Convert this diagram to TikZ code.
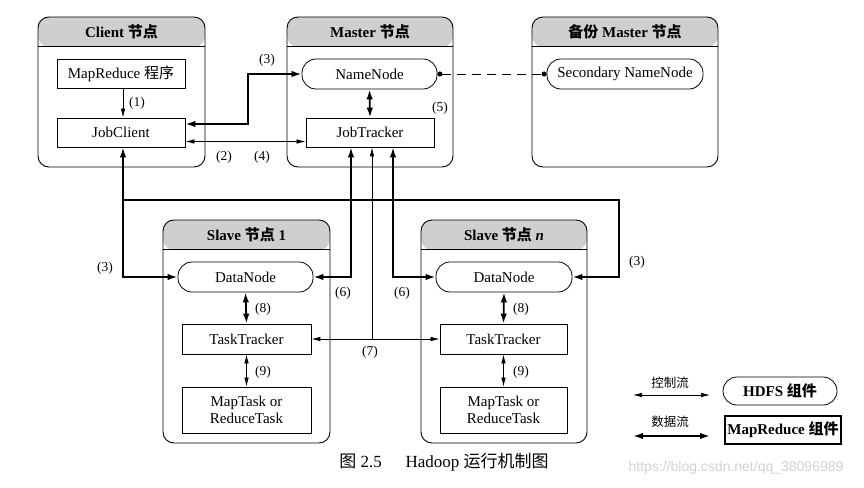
\documentclass[tikz,border=0pt]{standalone}
\usepackage{fontspec}
\setmainfont{Liberation Serif}
\setsansfont{Liberation Sans}
\newfontfamily\cjk{Noto Sans CJK SC}
\usetikzlibrary{arrows.meta}
\begin{document}
\begin{tikzpicture}[x=1pt,y=-1pt,
  every node/.style={font=\fontsize{15}{17}\selectfont, inner sep=0pt},
  outer/.style={draw, line width=0.9pt, rounded corners=11pt,
    path picture={\fill[gray!38] (path picture bounding box.north west) rectangle ([yshift=-30pt]path picture bounding box.north east);}},
  box/.style={draw, line width=0.8pt, fill=white},
  rbox/.style={draw, line width=0.8pt, rounded corners=14pt, fill=white},
  hdr/.style={font=\fontsize{15}{17}\selectfont\bfseries},
  lbl/.style={font=\fontsize{13.5}{15}\selectfont},
  ct/.tip={Latex[length=9pt,width=4.5pt]},
  dt/.tip={Latex[length=10pt,width=6.5pt]},
  ctrl/.style={line width=0.7pt},
  data/.style={line width=1.8pt},
  dotend/.tip={Circle[length=5pt]}
]
\useasboundingbox (0,0) rectangle (864,487);

% outer nodes
\node[outer, minimum width=167pt, minimum height=150pt] (client) at (121.5,92) {};
\node[outer, minimum width=166pt, minimum height=150pt] (master) at (370,92) {};
\node[outer, minimum width=186pt, minimum height=150pt] (backup) at (625,92) {};
\node[outer, minimum width=167pt, minimum height=223pt] (slave1) at (246.5,331.5) {};
\node[outer, minimum width=166pt, minimum height=223pt] (slaven) at (504,331.5) {};

\foreach \n in {client,master,backup,slave1,slaven}
  \draw[line width=0.8pt] ([yshift=-30pt]\n.north west) -- ([yshift=-30pt]\n.north east);

\node[hdr] (clienth) at ([yshift=-15pt]client.north) {Client {\cjk 节点}};
\node[hdr] (masterh) at ([yshift=-15pt]master.north) {Master {\cjk 节点}};
\node[hdr] (backuph) at ([yshift=-15pt]backup.north) {{\cjk 备份} Master {\cjk 节点}};
\node[hdr] (slave1h) at ([yshift=-15pt]slave1.north) {Slave {\cjk 节点} 1};
\node[hdr] (slavenh) at ([yshift=-15pt]slaven.north) {Slave {\cjk 节点} \textit{n}};

% inner nodes
\node[box, minimum width=128pt, minimum height=29pt] (mr) at (121,73.5) {MapReduce {\cjk 程序}};
\node[box, minimum width=128pt, minimum height=29pt] (jobclient) at (121,132.5) {JobClient};
\node[rbox, minimum width=135pt, minimum height=30pt] (namenode) at (369.5,74) {NameNode};
\node[box, minimum width=128pt, minimum height=29pt] (jobtracker) at (370,132.5) {JobTracker};
\node[rbox, minimum width=156pt, minimum height=30pt] (secnn) at (625,74) {Secondary NameNode};

\node[rbox, minimum width=135pt, minimum height=30pt] (dn1) at (245.5,277) {DataNode};
\node[box, minimum width=129pt, minimum height=30pt] (tt1) at (246.5,339) {TaskTracker};
\node[box, minimum width=129pt, minimum height=46pt, align=center] (mt1) at (246.5,410) {MapTask or\\ReduceTask};

\node[rbox, minimum width=136pt, minimum height=30pt] (dnn) at (504,277) {DataNode};
\node[box, minimum width=127pt, minimum height=30pt] (ttn) at (503.5,339) {TaskTracker};
\node[box, minimum width=127pt, minimum height=46pt, align=center] (mtn) at (503.5,410) {MapTask or\\ReduceTask};

% connectors
\draw[ctrl, -ct] ([xshift=2pt]mr.south) -- ([xshift=2pt]jobclient.north);
\draw[data, dt-dt] ([yshift=8.5pt]jobclient.east) -| ([xshift=-54pt]namenode.west) -- (namenode.west);
\draw[ctrl, ct-ct] ([yshift=-9pt]jobclient.east) -- ([yshift=-9pt]jobtracker.west);
\draw[data, dt-dt] (namenode.south) -- (jobtracker.north);
\draw[ctrl, dashed, dash pattern=on 9pt off 6pt, dotend-dotend] (namenode.east) -- (secnn.west);

\coordinate (lvl) at (0,200);
\coordinate (rgt) at (619,0);
\path ([xshift=2pt]jobclient.south) coordinate (jc3);
\coordinate (j3) at (jc3 |- lvl);
\coordinate (r3) at (rgt |- lvl);
\draw[data, dt-dt] (jc3) |- (dn1.west);
\draw[data, -dt] (j3) -- (r3) |- (dnn.east);

\draw[data, dt-dt] ([xshift=-19pt]jobtracker.south) |- (dn1.east);
\draw[data, dt-dt] ([xshift=23pt]jobtracker.south) |- (dnn.west);

\path ([xshift=2pt]jobtracker.south) coordinate (jt7);
\coordinate (j7) at (jt7 |- tt1.east);
\draw[ctrl, ct-ct] (tt1.east) -- (ttn.west);
\draw[ctrl, -ct] (j7) -- (jt7);

\draw[data, dt-dt] (dn1.south) -- (tt1.north);
\draw[ctrl, ct-ct] (tt1.south) -- (mt1.north);
\draw[data, dt-dt] (dnn.south) -- (ttn.north);
\draw[ctrl, ct-ct] (ttn.south) -- (mtn.north);

% labels
\node[lbl] (l1) at (137,103) {(1)};
\node[lbl] (l3a) at (267,60) {(3)};
\node[lbl] (l5) at (440,108) {(5)};
\node[lbl] (l2) at (224,157) {(2)};
\node[lbl] (l4) at (262,157) {(4)};
\node[lbl] (l3b) at (105,268) {(3)};
\node[lbl] (l3c) at (637,262) {(3)};
\node[lbl] (l6a) at (343,293) {(6)};
\node[lbl] (l6b) at (402,293) {(6)};
\node[lbl] (l7) at (370,352) {(7)};
\node[lbl] (l8a) at (263,309) {(8)};
\node[lbl] (l8b) at (521,309) {(8)};
\node[lbl] (l9a) at (263,372) {(9)};
\node[lbl] (l9b) at (521,372) {(9)};

% legend
\node[font=\fontsize{12.5}{14}\selectfont] (lgc) at (670,383) {\cjk 控制流};
\node[font=\fontsize{12.5}{14}\selectfont] (lgd) at (670,422) {\cjk 数据流};
\coordinate (lc1) at (633,395);
\coordinate (lc2) at (710,395);
\coordinate (ld1) at (633,436);
\coordinate (ld2) at (710,436);
\draw[ctrl, ct-ct] (lc1) -- (lc2);
\draw[data, dt-dt] (ld1) -- (ld2);
\node[rbox, minimum width=114pt, minimum height=28pt, font=\fontsize{15}{17}\selectfont\bfseries] (lh) at (780,391) {HDFS {\cjk 组件}};
\node[box, line width=1.1pt, minimum width=116pt, minimum height=28pt, font=\fontsize{15}{17}\selectfont\bfseries] (lm) at (783,430) {MapReduce {\cjk 组件}};

% caption
\node[font=\fontsize{17}{19}\selectfont] (cap) at (444,462) {{\cjk 图} 2.5\hspace{1.4em}Hadoop {\cjk 运行机制图}};
\node[font=\sffamily\fontsize{14}{16}\selectfont, text=gray!35] (wm) at (736,468) {https://blog.csdn.net/qq\_38096989};
\end{tikzpicture}
\end{document}
